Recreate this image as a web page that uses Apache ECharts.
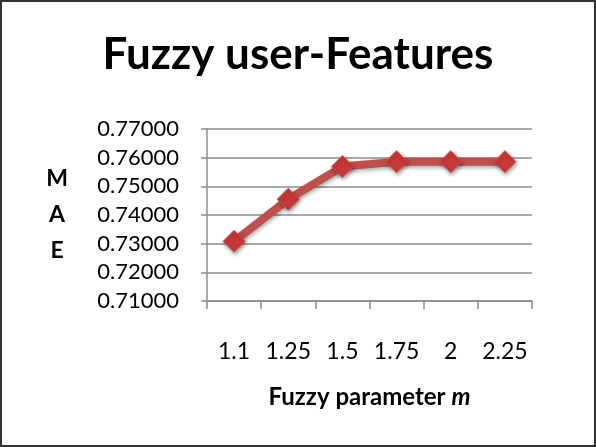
<!DOCTYPE html>
<html lang="en">
<head>
    <meta charset="UTF-8">
    <title>Fuzzy user-Features</title>
    <style>
        html, body { margin: 0; padding: 0; background: #fff; }
        #main { width: 596px; height: 447px; }
    </style>
</head>
<body>
<script src="https://cdn.jsdelivr.net/npm/echarts@6/dist/echarts.min.js"></script>

<div id="main"></div>

<script type="text/javascript">
    // data
    var mValues = ['1.1', '1.25', '1.5', '1.75', '2', '2.25'];
    var maeValues = [0.7308, 0.7455, 0.7569, 0.7586, 0.7586, 0.7586];
    var yMin = 0.71, yMax = 0.77, yStep = 0.01;

    var font = 'Lato, "Open Sans", sans-serif';
    var gridColor = '#8c8c8c';

    var myChart = echarts.init(document.getElementById('main'));

    myChart.setOption({
        animation: false,
        textStyle: { fontFamily: font },
        title: {
            text: 'Fuzzy user-Features',
            left: 'center',
            top: 28,
            textStyle: { fontSize: 44, fontWeight: 'bold', color: '#000', fontFamily: font }
        },
        graphic: [{
            type: 'rect',
            shape: { x: 1, y: 1, width: 594, height: 445 },
            style: { fill: 'none', stroke: '#333', lineWidth: 2 }
        }],
        grid: { left: 207, right: 64, top: 129, bottom: 146 },
        xAxis: {
            type: 'category',
            data: mValues,
            boundaryGap: true,
            name: 'Fuzzy parameter {i|m}',
            nameLocation: 'middle',
            nameGap: 84,
            nameTextStyle: {
                fontSize: 24, fontWeight: 'bold', color: '#000', fontFamily: font,
                rich: { i: { fontSize: 24, fontWeight: 'bold', fontStyle: 'italic', color: '#000', fontFamily: font } }
            },
            axisLine: { lineStyle: { color: gridColor, width: 1.5 } },
            axisTick: { show: true, length: 8, lineStyle: { color: gridColor, width: 1.5 } },
            axisLabel: { interval: 0, margin: 39, fontSize: 23, color: '#000' },
            splitLine: { show: false }
        },
        yAxis: {
            type: 'value',
            min: yMin,
            max: yMax,
            interval: yStep,
            name: 'M\nA\nE',
            nameLocation: 'middle',
            nameRotate: 0,
            nameGap: 150,
            nameTextStyle: {
                fontSize: 23, fontWeight: 'bold', color: '#000', fontFamily: font,
                lineHeight: 36, align: 'center', verticalAlign: 'middle'
            },
            axisLine: { show: true, lineStyle: { color: gridColor, width: 1.5 } },
            axisTick: { show: true, length: 6, lineStyle: { color: gridColor, width: 1.5 } },
            axisLabel: {
                margin: 28, fontSize: 22, color: '#000',
                formatter: function (v) { return v.toFixed(5); }
            },
            splitLine: { show: true, lineStyle: { color: gridColor, width: 1.5 } }
        },
        series: [{
            type: 'line',
            data: maeValues,
            symbol: 'diamond',
            symbolSize: 22,
            lineStyle: {
                color: '#c0504d', width: 8,
                shadowColor: 'rgba(0,0,0,0.35)', shadowBlur: 4, shadowOffsetX: 1, shadowOffsetY: 2
            },
            itemStyle: {
                color: '#c8383a', borderColor: '#d4504e', borderWidth: 1,
                shadowColor: 'rgba(0,0,0,0.4)', shadowBlur: 4, shadowOffsetX: 1, shadowOffsetY: 2
            }
        }]
    });
</script>
</body>
</html>
